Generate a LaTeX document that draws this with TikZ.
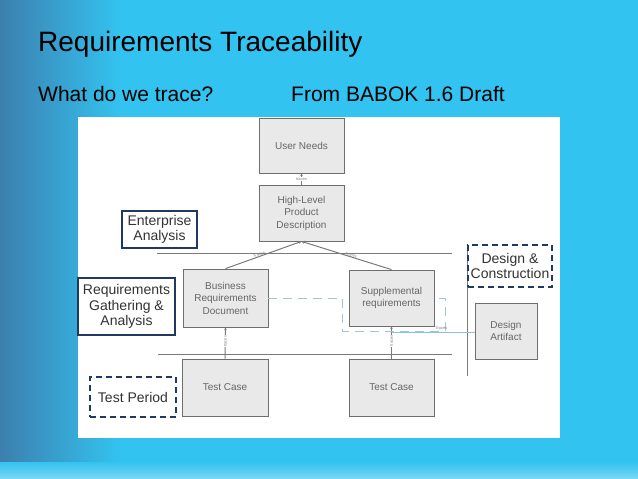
\documentclass[tikz,border=0pt]{standalone}
\usepackage{fontspec}
\setmainfont{Liberation Sans}
\usetikzlibrary{arrows.meta}
\definecolor{slidecyan}{HTML}{33C3F0}
\definecolor{slidedark}{HTML}{3C7FAE}
\definecolor{navy}{HTML}{203864}
\definecolor{boxline}{HTML}{6E6E6E}
\definecolor{boxfill}{HTML}{E9E9E9}
\definecolor{boxtext}{HTML}{666666}
\definecolor{lbltext}{HTML}{333333}
\definecolor{linkblue}{HTML}{A3C6D6}
\definecolor{linksolid}{HTML}{8CC3DA}
\definecolor{linkgray}{HTML}{7A7A7A}
\tikzset{
  diagbox/.style={draw=boxline, fill=boxfill, line width=0.8pt, text=boxtext,
    font=\fontsize{10}{12.5}\selectfont, align=center, inner sep=0pt},
  lblbox/.style={draw=navy, fill=white, line width=1.3pt, text=lbltext,
    font=\fontsize{14}{15.5}\selectfont, align=center, inner sep=0pt},
  dashbox/.style={lblbox, dash pattern=on 6pt off 4pt, line width=1.6pt},
  link/.style={draw=linkgray, line width=1pt},
  tinylbl/.style={font=\fontsize{4}{4}\selectfont, text=gray, inner sep=0.5pt},
  bluedash/.style={draw=linkblue, line width=1pt, dash pattern=on 9pt off 6pt},
  titletext/.style={font=\fontsize{28}{30}\selectfont, anchor=base west, inner sep=0pt},
  subtext/.style={font=\fontsize{21}{23}\selectfont, anchor=base west, inner sep=0pt}
}
\begin{document}
\begin{tikzpicture}[x=1pt,y=-1pt]
\useasboundingbox (0,0) rectangle (638,479);
% background
\fill[slidecyan] (0,0) rectangle (638,479);
\shade[left color=slidedark, right color=slidecyan] (0,0) rectangle (120,479);
\shade[top color=slidecyan, bottom color=white!35!slidecyan] (0,462) rectangle (638,479);
% titles
\node[titletext] (title) at (38,52) {Requirements Traceability};
\node[subtext] (sub1) at (38,101) {What do we trace?};
\node[subtext] (sub2) at (291,101) {From BABOK 1.6 Draft};
% white panel
\fill[white] (78,117) rectangle (560,438);
% horizontal and vertical rules
\coordinate (h1a) at (157,253);
\coordinate (h1b) at (452,253);
\coordinate (h2a) at (158,354);
\coordinate (h2b) at (452,354);
\coordinate (v1a) at (467,244);
\coordinate (v1b) at (467,376);
\draw[link] (h1a) -- (h1b);
\draw[link] (h2a) -- (h2b);
\draw[link] (v1a) -- (v1b);
% diagram boxes
\node[diagbox, minimum width=85pt, minimum height=55pt] (un) at (301.5,145.5) {User Needs};
\node[diagbox, minimum width=85pt, minimum height=56pt] (hl) at (301.5,213) {High-Level\\Product\\Description};
\node[diagbox, minimum width=85pt, minimum height=58pt] (brd) at (225.5,298) {Business\\Requirements\\Document};
\node[diagbox, minimum width=85pt, minimum height=56pt] (sup) at (391.5,298) {Supplemental\\requirements};
\node[diagbox, minimum width=62pt, minimum height=56pt] (da) at (506,331) {Design\\Artifact};
\node[diagbox, minimum width=86pt, minimum height=57pt] (tc1) at (225,387.5) {Test Case};
\node[diagbox, minimum width=85pt, minimum height=57pt] (tc2) at (391.5,387.5) {Test Case};
% trace links
\draw[link, line width=0.7pt, -{Stealth[length=2.5pt,width=2.5pt]}] (hl.north) -- (un.south)
  node[midway, tinylbl, fill=white] {traces};
\draw[link, -{Stealth[length=3pt,width=3pt]}] (brd.north) -- (hl.south)
  node[pos=0.45, tinylbl, sloped, above=-0.5pt] {Traces};
\draw[link, -{Stealth[length=3pt,width=3pt]}] (sup.north) -- (hl.south)
  node[pos=0.45, tinylbl, sloped, above=-0.5pt] {traces};
\draw[link, -{Stealth[length=2.5pt,width=2.5pt]}] (tc1.north) -- (brd.south)
  node[pos=0.55, tinylbl, rotate=90, fill=white] {traces};
\draw[link, -{Stealth[length=2.5pt,width=2.5pt]}] (tc2.north) -- (sup.south)
  node[pos=0.55, tinylbl, rotate=90, fill=white] {traces};
% dashed blue link around supplemental requirements
\coordinate (bd1) at (342,298);
\coordinate (bd2) at (342,331);
\coordinate (bd3) at (445,331);
\coordinate (bd4) at (445,298);
\draw[bluedash] (brd.east) -- (bd1) -- (bd2) -- (bd3) -- (bd4) -- (sup.east);
\coordinate (sj) at (391.5,332);
\draw[draw=linksolid, line width=1pt] (sj) -- (da.west |- sj)
  node[pos=0.6, tinylbl, above=1pt] {Traces};
% phase label boxes
\node[lblbox, minimum width=75pt, minimum height=37pt] (ea) at (159.5,229.5) {Enterprise\\Analysis};
\node[lblbox, minimum width=97pt, minimum height=57pt] (rga) at (126.5,306.5) {Requirements\\Gathering \&\\Analysis};
\node[dashbox, minimum width=86pt, minimum height=40pt] (tp) at (133,397) {Test Period};
\node[dashbox, minimum width=84pt, minimum height=42pt] (dc) at (510,266) {Design \&\\Construction};
\end{tikzpicture}
\end{document}
